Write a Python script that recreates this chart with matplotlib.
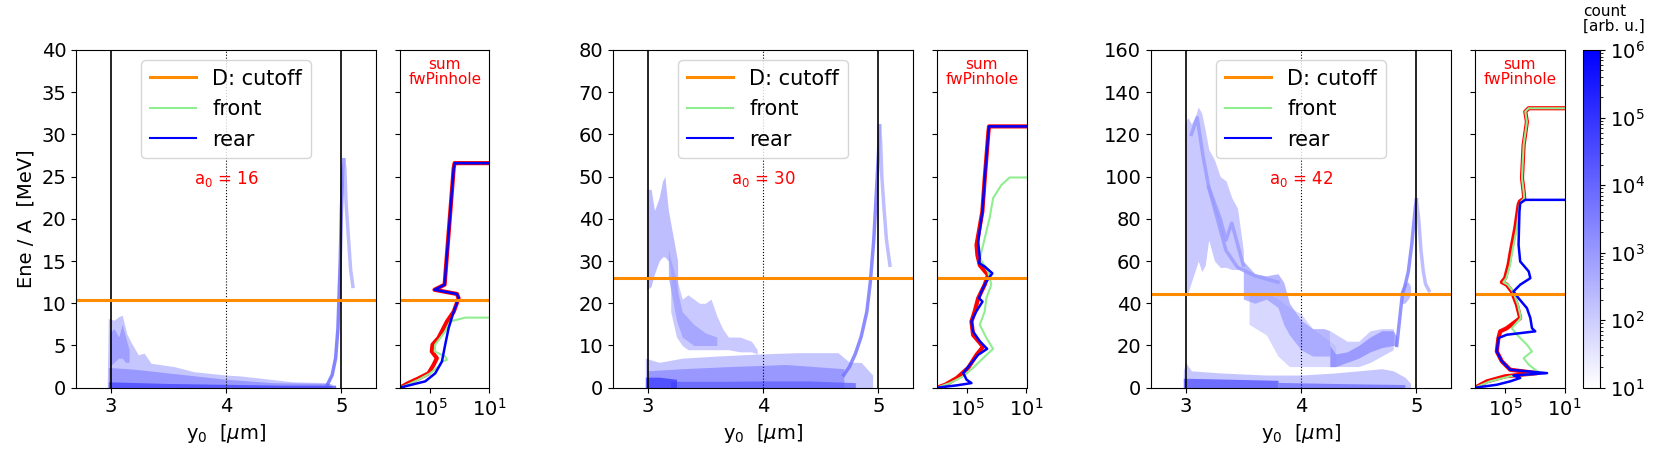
import matplotlib
matplotlib.use("Agg")
import matplotlib.pyplot as plt
import numpy as np
from matplotlib.colors import LinearSegmentedColormap, LogNorm
from matplotlib.cm import ScalarMappable

# ---- panel settings ----
a0_values = [16, 30, 42]
ymax_values = [40, 80, 160]
cutoff_values = [10.35, 25.9, 44.4]

# ---- side spectra (log10 count, energy in MeV) ----
sum_a16_lc = [1.0, 3.34, 3.40, 4.01, 4.69, 3.18, 3.07, 3.40, 3.85, 4.42, 4.82, 4.87, 4.53, 4.75, 5.09, 5.76, 6.44, 7.0]
sum_a16_E = [26.6, 26.6, 26.0, 12.2, 11.6, 11.1, 10.6, 9.0, 7.85, 5.9, 5.1, 4.3, 3.5, 2.7, 1.7, 1.1, 0.55, 0.0]
front_a16_lc = [1.0, 2.62, 3.63, 3.97, 4.64, 4.68, 3.97, 3.85, 4.19, 4.42, 4.98, 5.76, 6.5, 7.0]
front_a16_E = [8.3, 8.3, 7.85, 6.67, 5.1, 4.3, 3.7, 3.3, 3.1, 2.5, 1.7, 0.95, 0.35, 0.0]
rear_a16_lc = [1.0, 3.34, 3.40, 4.01, 4.69, 3.18, 3.07, 3.40, 3.74, 3.97, 4.19, 4.64, 5.31, 6.66, 7.0]
rear_a16_E = [26.6, 26.6, 26.0, 12.2, 11.6, 11.1, 10.6, 9.0, 7.06, 5.1, 3.1, 1.7, 0.75, 0.16, 0.0]

sum_a30_lc = [1.0, 3.51, 3.55, 3.80, 3.96, 4.35, 4.29, 4.13, 3.58, 3.80, 4.24, 4.47, 4.69, 4.58, 3.91, 4.35, 4.91, 5.67, 6.45, 7.0]
sum_a30_E = [61.9, 61.9, 60.7, 49.6, 41.7, 33.8, 31.4, 29.0, 26.7, 24.4, 21.2, 18.1, 15.7, 12.5, 9.7, 7.8, 4.7, 2.3, 0.7, 0.0]
front_a30_lc = [1.0, 2.13, 2.69, 3.24, 3.47, 3.91, 4.13, 3.58, 3.36, 3.69, 3.80, 4.13, 3.69, 3.24, 3.91, 4.58, 5.24, 6.13, 7.0]
front_a30_E = [49.8, 49.8, 48.0, 44.9, 40.2, 33.8, 30.7, 27.5, 24.4, 21.2, 18.1, 14.9, 11.8, 9.2, 7.0, 4.7, 2.7, 1.1, 0.0]
rear_a30_lc = [1.0, 3.51, 3.55, 3.80, 3.96, 4.24, 4.13, 4.18, 3.80, 3.29, 3.69, 4.02, 4.18, 3.95, 4.36, 4.69, 4.58, 4.13, 3.64, 4.24, 4.80, 5.24, 5.02, 4.69, 5.69, 7.0]
rear_a30_E = [61.9, 61.9, 60.7, 49.6, 41.7, 34.6, 30.7, 29.5, 28.7, 27.1, 25.2, 22.8, 21.2, 20.4, 18.1, 15.7, 13.3, 11.0, 9.2, 7.8, 5.4, 3.5, 1.9, 1.1, 0.55, 0.0]

sum_a42_lc = [1.0, 3.40, 3.63, 3.52, 3.74, 3.85, 3.74, 3.70, 4.00, 4.08, 4.30, 4.60, 4.75, 4.98, 5.20, 4.87, 4.53, 4.19, 3.97, 4.87, 5.31, 5.43, 5.54, 5.20, 4.64, 2.84, 4.98, 6.20, 7.0]
sum_a42_E = [132.4, 132.4, 130.8, 126.0, 115.0, 99.3, 92.9, 89.7, 88.2, 86.6, 75.6, 64.5, 58.2, 51.9, 50.0, 48.8, 45.6, 39.3, 33.0, 28.2, 26.7, 23.5, 17.2, 12.5, 8.5, 6.9, 5.4, 3.0, 0.0]
front_a42_lc = [1.0, 3.40, 3.63, 3.52, 3.74, 3.85, 3.74, 3.70, 3.90, 4.00, 4.20, 4.50, 4.65, 4.90, 5.10, 4.80, 4.45, 4.12, 3.92, 4.53, 4.19, 3.52, 3.18, 3.74, 3.40, 2.96, 2.62, 4.64, 6.0, 7.0]
front_a42_E = [132.4, 132.4, 130.8, 126.0, 115.0, 99.3, 92.9, 89.7, 88.2, 86.6, 75.6, 64.5, 58.2, 51.9, 50.0, 48.8, 45.6, 39.3, 33.0, 28.2, 25.1, 20.4, 17.2, 14.0, 10.9, 8.5, 6.9, 5.4, 3.0, 0.0]
rear_a42_lc = [1.0, 3.63, 3.97, 4.02, 4.08, 3.97, 3.40, 3.29, 3.97, 4.42, 4.08, 3.52, 3.29, 3.18, 2.96, 4.87, 5.43, 5.54, 5.20, 4.64, 2.17, 4.42, 3.97, 4.64, 5.54, 7.0]
rear_a42_E = [89.0, 89.0, 87.4, 83.5, 67.7, 59.8, 55.1, 51.9, 48.8, 45.6, 42.4, 37.7, 33.0, 28.2, 26.7, 25.1, 23.5, 17.2, 12.5, 8.5, 6.9, 5.8, 4.6, 3.0, 1.4, 0.0]

# ---- histogram regions: (y0, lower E, upper E, log10 count) ----
hist_a16 = [
    ([2.97, 2.98, 3.03, 3.07, 3.10, 3.14, 3.18, 3.24, 3.29, 3.35, 3.55, 3.72, 4.0, 4.12, 4.58, 4.87, 4.92],
     [0] * 17,
     [0, 8.2, 8.0, 8.4, 8.6, 6.4, 5.3, 3.9, 4.1, 2.9, 2.5, 1.9, 1.5, 1.4, 0.7, 0.6, 0.4], 2.6),
    ([2.98, 3.2, 3.4, 3.6, 4.0, 4.4, 4.9], [0] * 7, [2.4, 2.2, 1.9, 1.6, 1.0, 0.6, 0.5], 3.4),
    ([2.99, 3.03, 3.07, 3.10, 3.13, 3.16], [2.5, 3.0, 3.5, 3.5, 3.0, 3.0], [6.5, 7.0, 6.0, 7.5, 6.0, 4.5], 3.2),
    ([2.98, 3.5, 4.0, 4.5, 4.95], [0] * 5, [0.7, 0.5, 0.4, 0.3, 0.3], 4.8),
]
rear_a16 = [([4.88, 4.92, 4.95, 4.97, 4.98, 4.99, 5.0, 5.01, 5.02], [0.4, 1.5, 3.5, 7, 11, 15, 21, 25, 27], 4.0),
            ([5.02, 5.03, 5.04, 5.06, 5.08, 5.1], [27, 26, 22, 18, 14, 12], 2.6)]

hist_a30 = [
    ([2.98, 3.1, 3.3, 3.6, 3.98, 4.3, 4.65, 4.75, 4.85, 4.95], [0] * 10,
     [7, 6, 7, 7.5, 8, 8.3, 8.3, 6, 6, 3], 2.6),
    ([3.2, 3.25, 3.3, 3.35, 3.4, 3.45, 3.5, 3.55, 3.6, 3.65, 3.7, 3.8, 3.9, 3.95],
     [18, 12, 10, 9, 9, 9, 9, 9, 9, 9, 9, 8.5, 8.5, 8],
     [30, 26, 21, 22, 21, 20, 20, 21, 17, 14, 12, 12, 11, 9], 2.5),
    ([3.18, 3.25, 3.3, 3.4, 3.5, 3.6], [26, 16, 12, 10, 10, 10], [33, 24, 18, 15, 13, 12], 3.0),
    ([2.99, 3.03, 3.06, 3.1, 3.13, 3.15, 3.18, 3.22, 3.26],
     [23, 24, 27, 30, 31, 31, 30, 25, 20],
     [47, 47, 42, 45, 49, 50, 42, 36, 30], 2.8),
    ([3.0, 3.3, 3.7, 4.2, 4.7], [0] * 5, [4, 4.5, 5, 5.5, 4.5], 3.4),
    ([3.2, 3.6, 4.0, 4.4, 4.8], [0] * 5, [1.5, 1.5, 1.6, 1.6, 1.2], 4.2),
    ([2.98, 3.1, 3.25], [0] * 3, [2.5, 2.5, 2.0], 5.0),
]
rear_a30 = [([4.7, 4.75, 4.8, 4.85, 4.9, 4.93, 4.96, 4.98, 5.0, 5.01], [3, 5, 8, 12, 18, 25, 35, 45, 55, 62], 3.8),
            ([5.01, 5.02, 5.03, 5.05, 5.07, 5.1], [62, 58, 50, 42, 35, 29], 2.6)]

hist_a42 = [
    ([2.98, 3.0, 3.05, 3.3, 3.7, 4.0, 4.3, 4.5, 4.7, 4.8, 4.9, 4.95], [0] * 12,
     [8, 12, 8, 7, 6, 6, 7, 8, 9, 8, 5, 2], 2.6),
    ([2.99, 3.02, 3.05, 3.08, 3.11, 3.14, 3.17, 3.2, 3.25, 3.3, 3.35, 3.4, 3.45, 3.5],
     [45, 45, 50, 55, 60, 55, 58, 70, 60, 57, 57, 56, 56, 56],
     [125, 128, 125, 128, 133, 130, 122, 113, 108, 100, 98, 90, 85, 65], 2.5),
    ([3.55, 3.7, 3.8, 3.9, 4.0, 4.1, 4.3], [30, 25, 15, 10, 10, 10, 10], [45, 45, 42, 38, 35, 28, 20], 2.1),
    ([3.5, 3.6, 3.7, 3.8, 3.85, 3.9, 4.0, 4.1, 4.2, 4.25],
     [42, 40, 42, 38, 30, 25, 18, 15, 15, 15],
     [60, 54, 53, 54, 50, 40, 32, 28, 28, 27], 3.0),
    ([4.25, 4.4, 4.5, 4.6, 4.7, 4.8], [10, 10, 10, 12, 15, 18], [27, 22, 22, 27, 28, 28], 2.4),
    ([4.25, 4.3, 4.4, 4.5, 4.6, 4.7, 4.8, 4.83], [10, 10, 12, 14, 17, 19, 20, 20],
     [20, 16, 17, 20, 24, 27, 27, 24], 3.4),
    ([4.87, 4.9, 4.93, 4.95], [40, 40, 42, 44], [46, 50, 50, 48], 2.8),
    ([2.98, 3.4, 3.8], [0] * 3, [4.5, 4.0, 3.5], 4.6),
    ([3.8, 4.3, 4.9], [0] * 3, [2.5, 2.0, 1.5], 4.0),
]
rear_a42 = [([4.83, 4.86, 4.88, 4.9, 4.93, 4.96, 4.99, 5.0], [20, 35, 45, 48, 55, 68, 85, 89], 3.6),
            ([5.0, 5.02, 5.04, 5.06, 5.08, 5.11], [89, 80, 65, 55, 49, 46], 2.6),
            ([3.05, 3.1, 3.15, 3.2, 3.25, 3.3, 3.35, 3.45, 3.6, 3.8], [120, 128, 110, 95, 85, 75, 65, 57, 53, 50], 3.0),
            ([3.2, 3.3, 3.35, 3.4, 3.45, 3.5], [95, 80, 70, 78, 68, 58], 3.0)]

hists = [hist_a16, hist_a30, hist_a42]
rears = [rear_a16, rear_a30, rear_a42]
spectra = [
    (sum_a16_lc, sum_a16_E, front_a16_lc, front_a16_E, rear_a16_lc, rear_a16_E),
    (sum_a30_lc, sum_a30_E, front_a30_lc, front_a30_E, rear_a30_lc, rear_a30_E),
    (sum_a42_lc, sum_a42_E, front_a42_lc, front_a42_E, rear_a42_lc, rear_a42_E),
]

cmap = LinearSegmentedColormap.from_list("w2b", ["white", "blue"])
norm = LogNorm(vmin=1e1, vmax=1e6)

W, H = 1657, 458
plt.rcParams["font.size"] = 14
fig = plt.figure(figsize=(W / 100, H / 100), dpi=100)

bot = (H - 387.7) / H
hgt = 337.7 / H
main_left = [76, 613, 1151]

for i in range(3):
    ax = fig.add_axes([main_left[i] / W, bot, 300 / W, hgt])
    axs = fig.add_axes([(main_left[i] + 324) / W, bot, 89.5 / W, hgt])
    ymax = ymax_values[i]

    for xs, lo, hi, lev in hists[i]:
        ax.fill_between(xs, lo, hi, color=cmap(norm(10 ** lev)), alpha=0.7, lw=0)
    for xs, es, lev in rears[i]:
        ax.plot(xs, es, color=cmap(norm(10 ** lev)), alpha=0.8, lw=2.5)

    ax.axvline(3, color="k", lw=1.2)
    ax.axvline(5, color="k", lw=1.2)
    ax.axvline(4, color="k", lw=0.8, ls=":")
    ax.axhline(cutoff_values[i], color="darkorange", lw=2.2, label="D: cutoff")
    ax.plot([], [], color="lightgreen", lw=1.5, label="front")
    ax.plot([], [], color="blue", lw=1.5, label="rear")
    ax.legend(loc="upper center", fontsize=15, handlelength=2.2)
    ax.text(0.5, 0.618, r"a$_0$ = %d" % a0_values[i], color="red", fontsize=12,
            ha="center", va="center", transform=ax.transAxes)
    ax.set_xlim(2.7, 5.3)
    ax.set_ylim(0, ymax)
    ax.set_xticks([3, 4, 5])
    ax.set_xlabel(r"y$_0$  [$\mu$m]")
    if i == 0:
        ax.set_ylabel("Ene / A  [MeV]")

    slc, sE, flc, fE, rlc, rE = spectra[i]
    axs.plot(10 ** np.array(slc), sE, color="red", lw=3)
    axs.plot(10 ** np.array(flc), fE, color="lightgreen", lw=1.5)
    axs.plot(10 ** np.array(rlc), rE, color="blue", lw=1.8)
    axs.axhline(cutoff_values[i], color="darkorange", lw=2.2)
    axs.set_xscale("log")
    axs.set_xlim(1e7, 1e1)
    axs.set_xticks([1e5, 1e1])
    axs.minorticks_off()
    axs.set_yticks(ax.get_yticks())
    axs.set_ylim(0, ymax)
    axs.set_yticklabels([])
    axs.text(0.5, 0.98, "sum\nfwPinhole", color="red", fontsize=11, ha="center", va="top",
             transform=axs.transAxes, linespacing=1.0)

cax = fig.add_axes([1583 / W, bot, 17 / W, hgt])
cb = fig.colorbar(ScalarMappable(norm=norm, cmap=cmap), cax=cax)
fig.text(1583 / W, 1 - 4 / H, "count\n[arb. u.]", fontsize=11, ha="left", va="top", linespacing=1.0)

fig.savefig("out.png", dpi=100)
